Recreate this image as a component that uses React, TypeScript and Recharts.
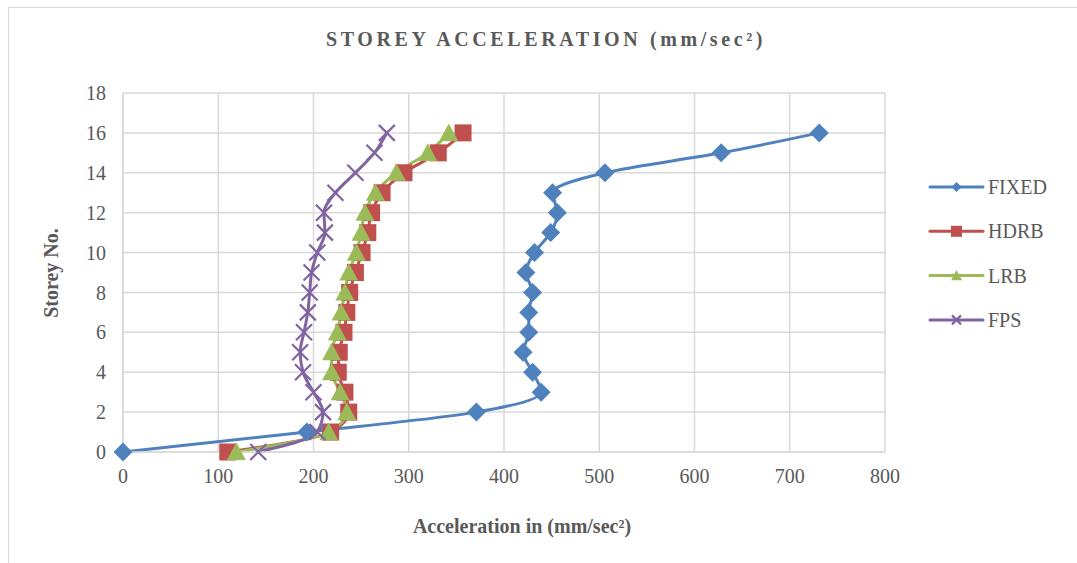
import React from 'react';
import { LineChart, Line, XAxis, YAxis, CartesianGrid } from 'recharts';

const storeys = [0, 1, 2, 3, 4, 5, 6, 7, 8, 9, 10, 11, 12, 13, 14, 15, 16];
const fixed = [0, 193, 371, 439, 430, 420, 426, 426, 430, 423, 432, 449, 456, 451, 506, 628, 731];
const hdrb = [110, 218, 237, 233, 226, 227, 232, 235, 238, 244, 251, 257, 261, 272, 295, 331, 357];
const lrb = [119, 216, 235, 228, 219, 219, 225, 229, 233, 237, 245, 250, 254, 265, 287, 320, 342];
const fps = [142, 204, 210, 200, 189, 186, 190, 194, 196, 198, 204, 212, 211, 223, 244, 264, 277];
const xTicks = [0, 100, 200, 300, 400, 500, 600, 700, 800];
const yTicks = [0, 2, 4, 6, 8, 10, 12, 14, 16, 18];

const data = storeys.map((s, i) => ({
  storey: s,
  FIXED: fixed[i],
  HDRB: hdrb[i],
  LRB: lrb[i],
  FPS: fps[i],
}));

const FONT = '"Liberation Serif", "Times New Roman", serif';
const TEXT = '#595959';

const COLORS = {
  FIXED: '#4F81BD',
  HDRB: '#C0504D',
  LRB: '#9BBB59',
  FPS: '#8064A2',
};

function Marker({ kind, cx, cy, size, color }: { kind: string; cx: number; cy: number; size: number; color: string }) {
  if (cx == null || cy == null) return null;
  const r = size / 2;
  if (kind === 'diamond') {
    return <path d={`M${cx},${cy - r}L${cx + r},${cy}L${cx},${cy + r}L${cx - r},${cy}Z`} fill={color} />;
  }
  if (kind === 'square') {
    return <rect x={cx - r} y={cy - r} width={size} height={size} fill={color} />;
  }
  if (kind === 'triangle') {
    return <path d={`M${cx},${cy - r}L${cx + r},${cy + r * 0.85}L${cx - r},${cy + r * 0.85}Z`} fill={color} />;
  }
  return (
    <path
      d={`M${cx - r},${cy - r}L${cx + r},${cy + r}M${cx + r},${cy - r}L${cx - r},${cy + r}`}
      stroke={color}
      strokeWidth={2.2}
      fill="none"
    />
  );
}

const series = [
  { key: 'FIXED', kind: 'diamond', size: 19, legendSize: 10 },
  { key: 'HDRB', kind: 'square', size: 17, legendSize: 11 },
  { key: 'LRB', kind: 'triangle', size: 19, legendSize: 11 },
  { key: 'FPS', kind: 'x', size: 16, legendSize: 9 },
];

function ChartLegend() {
  return (
    <svg width={160} height={180} style={{ position: 'absolute', left: 920, top: 165 }}>
      {series.map((s, i) => {
        const y = 22 + i * 44.3;
        const color = COLORS[s.key as keyof typeof COLORS];
        return (
          <g key={s.key}>
            <line x1={10} x2={63} y1={y} y2={y} stroke={color} strokeWidth={3} strokeLinecap="round" />
            <Marker kind={s.kind} cx={36.5} cy={y} size={s.legendSize} color={color} />
            <text x={68} y={y} dy="0.35em" fontFamily={FONT} fontSize={20} fill={TEXT}>
              {s.key}
            </text>
          </g>
        );
      })}
    </svg>
  );
}

export default function App() {
  return (
    <div
      style={{
        position: 'absolute',
        left: 0,
        top: 0,
        width: 1077,
        height: 563,
        overflow: 'hidden',
        background: '#fff',
        fontFamily: FONT,
      }}
    >
      <div
        style={{
          position: 'absolute',
          left: 8,
          top: 7,
          width: 1100,
          height: 600,
          border: '1.5px solid #d9d9d9',
        }}
      />
      <div
        style={{
          position: 'absolute',
          left: 0,
          width: 1092,
          top: 28,
          textAlign: 'center',
          fontSize: 20,
          fontWeight: 'bold',
          letterSpacing: 3.6,
          color: TEXT,
        }}
      >
        STOREY ACCELERATION (mm/sec²)
      </div>
      <div
        style={{
          position: 'absolute',
          left: 0,
          width: 1044,
          top: 515,
          textAlign: 'center',
          fontSize: 20,
          fontWeight: 'bold',
          color: TEXT,
        }}
      >
        Acceleration in (mm/sec²)
      </div>
      <div
        style={{
          position: 'absolute',
          left: 51,
          top: 273,
          transform: 'translate(-50%, -50%) rotate(-90deg)',
          fontSize: 20,
          fontWeight: 'bold',
          color: TEXT,
          whiteSpace: 'nowrap',
        }}
      >
        Storey No.
      </div>
      <div style={{ position: 'absolute', left: 0, top: 0 }}>
        <LineChart
          width={1077}
          height={563}
          data={data}
          layout="vertical"
          margin={{ top: 93, right: 192, left: 63, bottom: 71 }}
        >
          <CartesianGrid stroke="#d9d9d9" strokeWidth={1.5} />
          <XAxis
            type="number"
            domain={[0, 800]}
            ticks={xTicks}
            height={40}
            axisLine={{ stroke: '#d9d9d9', strokeWidth: 1.5 }}
            tickLine={false}
            tickSize={0}
            tickMargin={17}
            tick={{ fontSize: 20, fill: TEXT, fontFamily: FONT }}
          />
          <YAxis
            type="number"
            dataKey="storey"
            domain={[0, 18]}
            ticks={yTicks}
            reversed
            width={60}
            axisLine={{ stroke: '#d9d9d9', strokeWidth: 1.5 }}
            tickLine={false}
            tickSize={0}
            tickMargin={17}
            tick={{ fontSize: 20, fill: TEXT, fontFamily: FONT }}
          />
          {series.map((s) => {
            const color = COLORS[s.key as keyof typeof COLORS];
            return (
              <Line
                key={s.key}
                dataKey={s.key}
                type="monotone"
                stroke={color}
                strokeWidth={3}
                isAnimationActive={false}
                dot={(p: any) => (
                  <Marker key={`${s.key}-${p.index}`} kind={s.kind} cx={p.cx} cy={p.cy} size={s.size} color={color} />
                )}
                activeDot={false}
              />
            );
          })}
        </LineChart>
      </div>
      <ChartLegend />
    </div>
  );
}
